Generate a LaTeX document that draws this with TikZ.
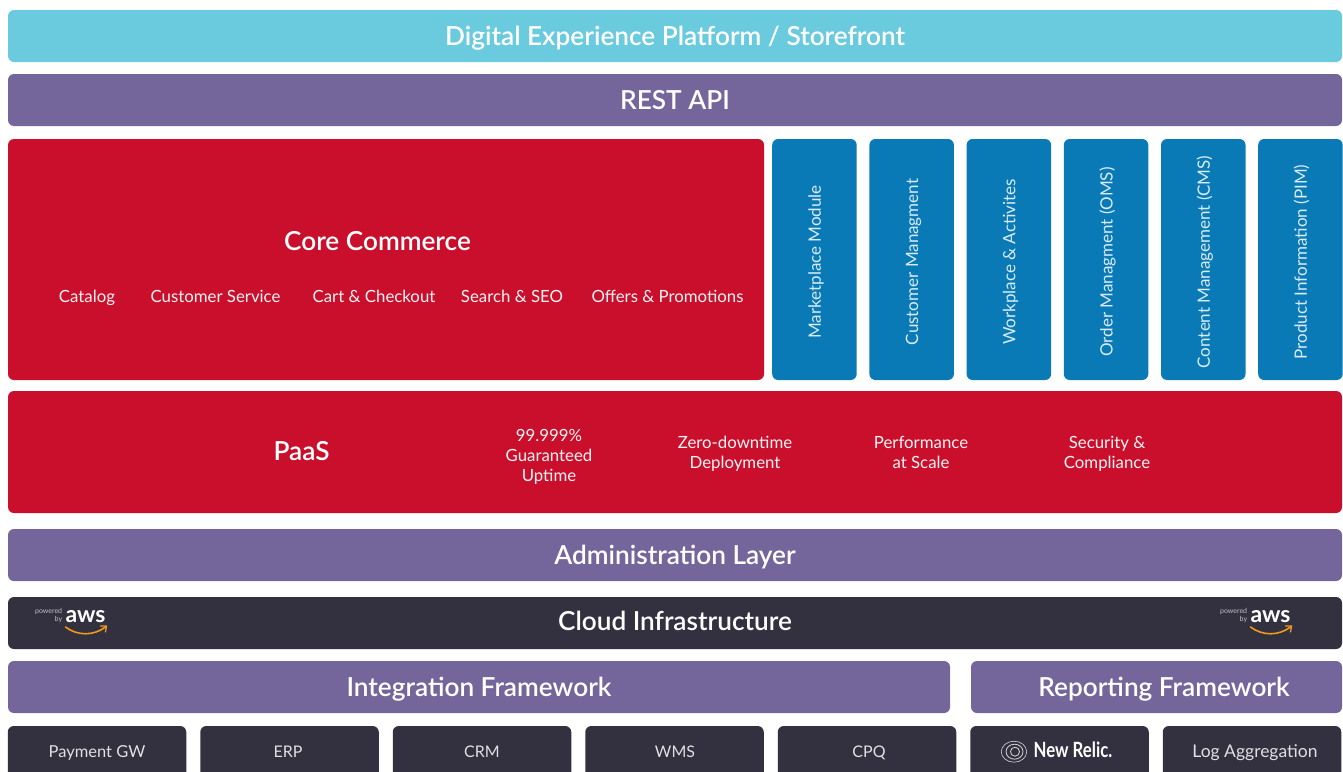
\documentclass[tikz,border=0pt]{standalone}
\usepackage{fontspec}
\setmainfont{Lato}[BoldFont={Lato Semibold}]
\newfontfamily\heavyfont{Lato}[UprightFont={* Bold}]
\usetikzlibrary{positioning}
\definecolor{barcyan}{HTML}{6BCBDE}
\definecolor{barpurple}{HTML}{74669B}
\definecolor{barred}{HTML}{C90F2B}
\definecolor{barblue}{HTML}{0A7AB7}
\definecolor{bardark}{HTML}{33313F}
\definecolor{awsorange}{HTML}{F09A1C}
\tikzset{
    box/.style={
           rounded corners=6pt,
           inner sep=0pt,
           outer sep=0pt,
           text=white,
           align=center},
    bigtext/.style={
           text=white,
           text height=18pt,
           text depth=0pt,
           inner sep=0pt,
           font=\fontsize{26.2}{30}\selectfont\bfseries},
    bar/.style={
           box,
           bigtext,
           minimum width=1334pt,
           minimum height=52pt},
    modul/.style={
           box,
           fill=barblue,
           minimum width=84.5pt,
           minimum height=241pt},
    modtext/.style={
           rotate=90,
           inner sep=0pt,
           text height=13pt,
           text depth=0pt,
           text=white!85!barblue,
           font=\fontsize{17}{20}\selectfont},
    foot/.style={
           box,
           fill=bardark,
           minimum width=178.5pt,
           minimum height=60pt},
    foottext/.style={
           text=white!85!bardark,
           inner sep=0pt,
           text height=12pt,
           text depth=0pt,
           font=\fontsize{16}{20}\selectfont},
    item/.style={
           text=white!95!barred,
           align=center,
           font=\fontsize{16.8}{20}\selectfont},
    oneline/.style={
           item,
           inner sep=0pt,
           text height=12pt,
           text depth=0pt},
    awslogo/.pic={
        \node[text=white, inner sep=0pt, font=\fontsize{23}{23}\selectfont\heavyfont] (-aws) at (0,0) {aws};
        \node[text=white!70!bardark, left=3pt of -aws.west, inner sep=0pt, yshift=1pt, font=\fontsize{7}{8}\selectfont, align=right] (-pow) {powered\\by};
        \draw[awsorange, line width=1.6pt, line cap=round] (-20,10) .. controls (-8,19) and (8,19) .. (20,10);
        \draw[awsorange, line width=1.3pt, line cap=round] (15,9) -- (21,9) -- (20,15);
    }
}

\begin{document}
\begin{tikzpicture}[x=1pt, y=-1pt]
        \useasboundingbox (0,0) rectangle (1343,771);
        \clip (0,0) rectangle (1343,771);
        % top bars
        \node[bar, fill=barcyan] (dxp) at (675,36) {Digital Experience Platform / Storefront};
        \node[bar, fill=barpurple, below=12pt of dxp] (rest) {REST API};
        % core commerce
        \node[box, fill=barred, minimum width=756pt, minimum height=241pt] (core) at (386,259.5) {};
        \node[bigtext] (corecap) at (377.5,241) {Core Commerce};
        \node[oneline] (catalog) at (87,296) {Catalog};
        \node[oneline] (service) at (215.5,296) {Customer Service};
        \node[oneline] (cart) at (374,296) {Cart \& Checkout};
        \node[oneline] (search) at (512,296) {Search \& SEO};
        \node[oneline] (offers) at (667.5,296) {Offers \& Promotions};
        % modules
        \node[modul, right=8.2pt of core] (market) {};
        \node[modul, right=12.7pt of market] (customer) {};
        \node[modul, right=12.7pt of customer] (workplace) {};
        \node[modul, right=12.7pt of workplace] (order) {};
        \node[modul, right=12.7pt of order] (content) {};
        \node[modul, right=12.7pt of content] (product) {};
        \node[modtext] (markettxt) at ([yshift=-2.5pt]market) {Marketplace Module};
        \node[modtext] (customertxt) at ([yshift=-2.5pt]customer) {Customer Managment};
        \node[modtext] (workplacetxt) at ([yshift=-2.5pt]workplace) {Workplace \& Activites};
        \node[modtext] (ordertxt) at ([yshift=-2.5pt]order) {Order Managment (OMS)};
        \node[modtext] (contenttxt) at ([yshift=-2.5pt]content) {Content Management (CMS)};
        \node[modtext] (producttxt) at ([yshift=-2.5pt]product) {Product Information (PIM)};
        % paas
        \node[box, fill=barred, minimum width=1334pt, minimum height=122pt] (paas) at (675,452) {};
        \node[bigtext] (paascap) at (301.5,451) {PaaS};
        \node[item] (uptime) at (549,457) {99.999\%\\Guaranteed\\Uptime};
        \node[item] (zero) at (735,454) {Zero-downtime\\Deployment};
        \node[item] (scale) at (921,452) {Performance\\at Scale};
        \node[item] (security) at (1107,454) {Security \&\\Compliance};
        % lower bars
        \node[bar, fill=barpurple] (admin) at (675,555) {Administration Layer};
        \node[box, fill=bardark, minimum width=1334pt, minimum height=52pt, below=16pt of admin] (cloud) {};
        \node[bigtext] (cloudtxt) at (675,621) {Cloud Infrastructure};
        \pic (awsl) at (85.5,617) {awslogo};
        \pic (awsr) at (1270.5,617) {awslogo};
        \node[bar, fill=barpurple, minimum width=942pt] (integ) at (479,687) {Integration Framework};
        \node[box, fill=barpurple, minimum width=371pt, minimum height=52pt, right=21pt of integ] (report) {};
        \node[bigtext] (reporttxt) at (1164,687) {Reporting Framework};
        % bottom row
        \node[foot] (pay) at (97,756) {};
        \node[foot, right=14pt of pay] (erp) {};
        \node[foot, right=14pt of erp] (crm) {};
        \node[foot, right=14pt of crm] (wms) {};
        \node[foot, right=14pt of wms] (cpq) {};
        \node[foot, right=14pt of cpq] (relic) {};
        \node[foot, right=14pt of relic] (logs) {};
        \node[foottext, font=\fontsize{16.5}{20}\selectfont] (paytxt) at (97,751) {Payment GW};
        \node[foottext] (erptxt) at (288,751) {ERP};
        \node[foottext] (crmtxt) at (482,751) {CRM};
        \node[foottext] (wmstxt) at (675,751) {WMS};
        \node[foottext] (cpqtxt) at (869,751) {CPQ};
        \node[foottext, text=white, font=\fontsize{21}{20}\selectfont\heavyfont, xscale=.8] (relictxt) at (1073,751) {New Relic.};
        \node[foottext, font=\fontsize{17.5}{20}\selectfont] (logstxt) at (1255,751) {Log Aggregation};
        % new relic rings
        \draw[white!80!bardark, line width=.6pt] (1014,751.7) ellipse (12.7pt and 10.5pt);
        \draw[white!80!bardark, line width=.8pt] (1014.5,751.7) ellipse (8.5pt and 7.5pt);
        \draw[white!80!bardark, line width=.8pt] (1015,751.7) ellipse (4.5pt and 4.5pt);
    \end{tikzpicture}
\end{document}
